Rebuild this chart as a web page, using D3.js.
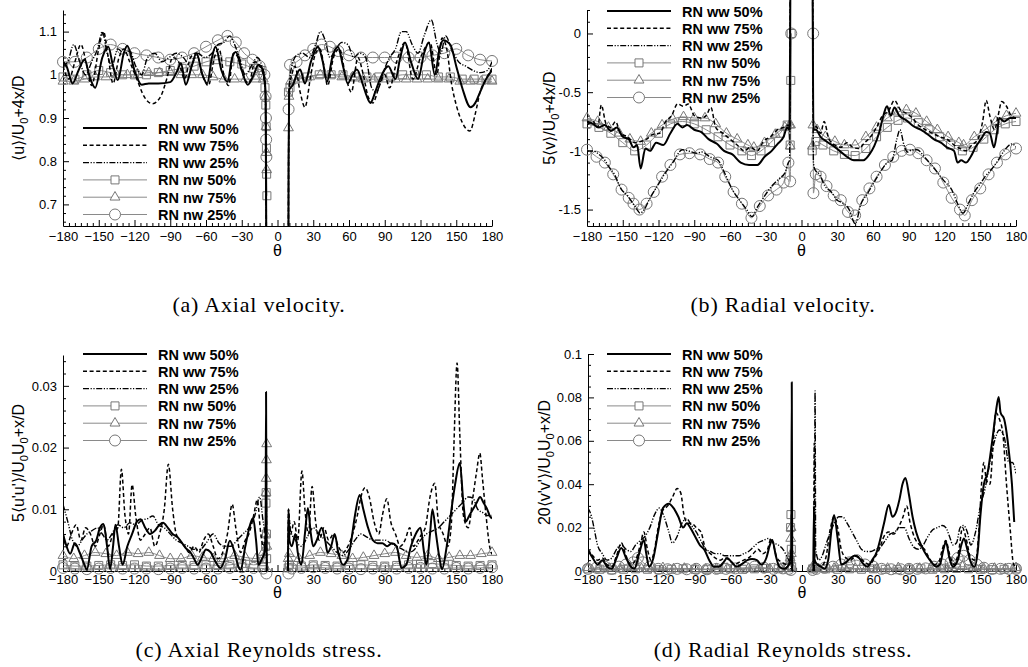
<!DOCTYPE html>
<html lang="en">
<head>
<meta charset="utf-8"/>
<title>RN ww / nw profiles</title>
<script src="https://d3js.org/d3.v7.min.js"></script>
<style>
  body{margin:0;background:#ffffff;}
  svg text{font-family:'Liberation Sans',Arial,Helvetica,sans-serif;fill:#000;}
  .tick text{font-size:13px;}
  .legend-label{font-size:14.5px;font-weight:bold;}
  .axis-title{font-size:16px;}
  svg text.caption{font-family:'Liberation Serif','Times New Roman',serif;font-size:22px;letter-spacing:0.8px;}
</style>
</head>
<body>
<svg id="chart" width="1028" height="667"></svg>
<script>
// ---- data (theta in degrees, value) ; null = gap around the rod ----
const thetaTicks = [-180, -150, -120, -90, -60, -30, 0, 30, 60, 90, 120, 150, 180];
const axialTicks = [0.7, 0.8, 0.9, 1, 1.1];
const radialTicks = [-1.5, -1, -0.5, 0];
const stressUTicks = [0, 0.01, 0.02, 0.03];
const stressVTicks = [0, 0.02, 0.04, 0.06, 0.08, 0.1];
const seriesNames = ['RN ww 50%', 'RN ww 75%', 'RN ww 25%', 'RN nw 50%', 'RN nw 75%', 'RN nw 25%'];
const captions = ['(a) Axial velocity.', '(b) Radial velocity.', '(c) Axial Reynolds stress.', '(d) Radial Reynolds stress.'];

// (a) axial velocity
const axialWw50 = [[-180,1.03],[-177,1.02],[-172,0.98],[-167,1.01],[-162,1.035],[-157,0.99],[-153,0.97],[-147,1.04],[-142,1.065],[-138,1.02],[-134,0.988],[-129,1.05],[-126,1.067],[-120,1.01],[-114,0.977],[-108,0.98],[-100,0.98],[-90,0.983],[-84,1.01],[-81,1.027],[-77,0.977],[-72,1.02],[-68,1.05],[-63,1.0],[-59,0.98],[-55,1.04],[-52,1.065],[-47,1.01],[-42,0.984],[-38,1.04],[-35,1.053],[-30,1.01],[-25,0.977],[-20,1.0],[-16,1.023],[-13,1.015],[-11,0.99],[-10,0.96],[-9.2,0.5],[-9,0.3],
  null,
  [9,0.3],[9.3,0.8],[9.8,0.965],[11,0.97],[13,0.977],[16,1.0],[19,1.012],[23,0.98],[28,1.03],[34,1.065],[38,1.03],[41.5,0.984],[46,1.04],[50.7,1.065],[55,1.02],[59,0.98],[63,1.0],[66.6,1.012],[71.7,0.977],[75,0.95],[78,0.935],[82,0.96],[86,0.99],[93,1.02],[99,0.99],[103,1.04],[107,1.075],[112,1.03],[118,0.99],[123,1.05],[127,1.075],[132,1.0],[136,1.06],[139,1.08],[145,1.07],[150,1.02],[155,0.97],[162,0.925],[166,0.935],[170,0.96],[175,0.99],[180,1.01]];
const axialWw75 = [[-180,1.02],[-175,0.99],[-170,1.03],[-165,1.07],[-160,1.02],[-156,0.975],[-150,1.06],[-146,1.1],[-142,1.04],[-138,0.98],[-133,1.04],[-129,1.06],[-124,1.03],[-118,0.99],[-112,0.95],[-105,0.933],[-98,0.95],[-93,0.99],[-88,1.04],[-83,1.03],[-78,0.99],[-73,1.04],[-68,1.05],[-63,1.0],[-58,0.975],[-53,1.04],[-49,1.06],[-45,1.0],[-41,0.975],[-37,1.05],[-33,1.04],[-29,1.0],[-24,0.98],[-19,1.03],[-15,1.02],[-12,1.0],[-10,0.95],[-9.2,0.5],[-9,0.3],
  null,
  [9,0.3],[9.3,0.8],[9.8,0.97],[12,1.0],[14.6,1.02],[19,0.96],[23,0.925],[28,1.0],[32,1.05],[35.6,1.06],[39,1.02],[42,0.975],[47,1.04],[52,1.06],[57,1.0],[62,0.96],[67.5,1.04],[72,1.0],[76,0.95],[80,0.935],[85,0.97],[90,1.0],[94,0.97],[100,1.03],[107,1.075],[113.6,0.99],[120,1.04],[128,1.075],[133.7,1.0],[138,1.085],[142,1.06],[146,0.98],[150,0.93],[155,0.89],[161.5,0.87],[166,0.91],[170,0.96],[175,0.99],[180,1.015]];
const axialWw25 = [[-180,1.02],[-176,1.03],[-171,1.07],[-166,1.03],[-161,1.0],[-156,1.03],[-151,1.06],[-147,1.1],[-143,1.05],[-139,1.02],[-134,1.06],[-129,1.05],[-124,1.055],[-119,1.02],[-114,1.0],[-109,1.04],[-103,1.05],[-97,1.03],[-91,1.04],[-85,1.05],[-79,1.04],[-73,1.02],[-67,1.05],[-61,1.04],[-55,1.05],[-50,1.07],[-45,1.075],[-40,1.09],[-36,1.07],[-32,1.04],[-27,1.0],[-22,1.02],[-17,1.04],[-13,1.02],[-10.5,0.99],[-9.2,0.5],[-9,0.3],
  null,
  [9,0.3],[9.3,0.8],[9.8,0.97],[12,1.02],[16,1.045],[21,1.05],[27,1.04],[32,1.07],[36,1.1],[40,1.08],[44,1.04],[49,1.06],[54,1.075],[59,1.07],[64,1.04],[69,1.05],[74,1.04],[79,0.97],[83,0.96],[88,1.0],[94,1.04],[99,1.06],[104,1.1],[108,1.1],[113,1.07],[118,1.05],[123,1.09],[129,1.127],[134,1.07],[137,1.05],[141,1.09],[146,1.06],[152,1.03],[158,1.02],[164,1.01],[170,1.005],[176,1.01],[180,1.03]];
const axialNw50 = [[-180,0.995],[-170,0.99],[-160,1.0],[-150,1.01],[-140,1.005],[-130,1.0],[-120,1.0],[-110,1.0],[-100,1.005],[-90,1.01],[-80,1.015],[-70,1.02],[-60,1.03],[-50,1.035],[-40,1.03],[-30,1.025],[-20,1.015],[-13,1.01],[-10.5,0.97],[-9.8,0.93],[-9.5,0.88],[-9.3,0.83],[-9.1,0.77],[-8.9,0.72],
  null,
  [9.2,0.96],[10.5,0.97],[15,0.99],[25,0.995],[35,1.0],[45,1.0],[55,1.0],[65,0.995],[75,0.995],[85,0.995],[95,0.995],[105,1.0],[115,1.0],[125,1.0],[135,0.995],[145,0.995],[155,0.99],[165,0.99],[175,0.99],[180,0.99]];
const axialNw75 = [[-180,0.985],[-171,0.985],[-162,0.99],[-153,0.995],[-144,0.995],[-135,1.0],[-126,1.0],[-117,1.0],[-108,1.005],[-99,1.005],[-90,1.005],[-81,1.0],[-72,1.0],[-63,1.0],[-54,0.995],[-45,0.99],[-36,0.99],[-27,0.99],[-18,0.99],[-12,0.99],[-10.2,0.95],[-9.6,0.88],[-9.3,0.82],[-9.1,0.78],
  null,
  [9.2,0.877],[9.6,0.95],[11,0.985],[18,0.99],[27,0.995],[36,1.0],[45,1.0],[54,0.995],[63,0.995],[72,0.99],[81,0.99],[90,0.99],[99,0.99],[108,0.99],[117,0.99],[126,0.99],[135,0.99],[144,0.99],[153,0.985],[162,0.985],[171,0.985],[180,0.985]];
const axialNw25 = [[-180,1.03],[-170,1.03],[-160,1.04],[-150,1.06],[-140,1.07],[-130,1.06],[-120,1.05],[-110,1.045],[-100,1.04],[-90,1.035],[-80,1.04],[-70,1.05],[-60,1.065],[-50,1.08],[-42,1.09],[-35,1.075],[-28,1.05],[-21,1.035],[-15,1.02],[-11,1.0],[-10,0.95],[-9.7,0.9],[-9.5,0.85],[-9.3,0.81],
  null,
  [9.3,0.92],[10.5,1.023],[16,1.03],[23,1.045],[30,1.06],[37,1.07],[44,1.065],[51,1.055],[60,1.045],[70,1.04],[80,1.04],[90,1.04],[100,1.04],[110,1.04],[120,1.04],[130,1.045],[140,1.05],[150,1.06],[160,1.045],[170,1.035],[180,1.032]];

// (b) radial velocity
const radialWw50 = [[-180,-0.75],[-175,-0.77],[-170,-0.8],[-165,-0.78],[-160,-0.83],[-155,-0.8],[-150,-0.88],[-145,-0.9],[-141,-0.97],[-138,-0.95],[-135,-1.15],[-131,-0.98],[-127,-1.0],[-122,-0.93],[-116,-0.95],[-110,-0.85],[-104,-0.77],[-100,-0.8],[-96,-0.78],[-90,-0.82],[-84,-0.84],[-78,-0.9],[-71,-0.94],[-65,-1.0],[-58,-1.03],[-51,-1.1],[-44,-1.12],[-37,-1.12],[-31,-1.05],[-25,-1.0],[-20,-0.94],[-15,-0.88],[-12,-0.8],[-10,-0.82],[-9.3,0.5],[-9,1],
  null,
  [9,1],[9.4,0.2],[10,-0.82],[12,-0.82],[16,-0.88],[21,-0.92],[27,-0.96],[32,-1.0],[38,-1.05],[44,-1.08],[52,-1.08],[57,-1.03],[61,-0.96],[65,-0.85],[69,-0.69],[71.7,-0.62],[75,-0.7],[78,-0.63],[82,-0.7],[88,-0.74],[94,-0.79],[100,-0.82],[106,-0.86],[111,-0.9],[117,-0.93],[122,-0.97],[128,-1.0],[131,-1.1],[134,-1.08],[138,-1.1],[142,-1.05],[146,-0.97],[150.6,-0.9],[155,-0.84],[158,-0.85],[161.5,-0.97],[164,-0.85],[166,-0.72],[170,-0.75],[175,-0.72],[180,-0.72]];
const radialWw75 = [[-180,-0.78],[-175,-0.75],[-171,-0.8],[-168,-0.61],[-164,-0.77],[-160,-0.8],[-156,-0.75],[-152,-0.85],[-146,-0.88],[-140,-0.93],[-135,-0.92],[-130,-0.9],[-125,-0.86],[-119,-0.85],[-114,-0.75],[-109,-0.7],[-104,-0.6],[-99,-0.62],[-95,-0.6],[-90,-0.7],[-84,-0.72],[-80,-0.7],[-76,-0.63],[-72,-0.8],[-66,-0.85],[-60,-0.9],[-54,-0.95],[-48,-1.0],[-43,-0.97],[-37,-1.0],[-32,-0.92],[-26,-0.88],[-20,-0.82],[-15,-0.8],[-11,-0.78],[-10,-0.8],[-9.3,0.5],[-9,1],
  null,
  [9,1],[9.4,0.2],[10,-0.78],[13,-0.8],[16,-0.85],[19,-0.75],[23,-0.9],[28,-0.95],[33,-0.97],[38,-0.93],[43,-0.97],[48,-0.98],[53,-0.93],[58,-0.88],[63,-0.8],[68,-0.7],[73,-0.66],[78,-0.57],[83,-0.65],[88,-0.68],[93,-0.72],[98,-0.78],[104,-0.82],[110,-0.85],[116,-0.88],[122,-0.9],[128,-0.95],[133,-0.98],[138,-1.0],[143,-0.95],[148,-0.9],[152,-0.75],[155,-0.57],[158,-0.7],[162,-0.82],[165,-0.7],[168,-0.58],[172,-0.62],[176,-0.7],[180,-0.72]];
const radialWw25 = [[-180,-1.0],[-175,-1.0],[-170,-1.03],[-165,-1.08],[-162,-1.13],[-157,-1.2],[-151,-1.33],[-146,-1.38],[-142,-1.44],[-138,-1.5],[-135.5,-1.53],[-132,-1.5],[-127,-1.4],[-121,-1.3],[-115,-1.2],[-108,-1.1],[-100,-0.99],[-95,-1.0],[-88,-1.02],[-83.5,-1.01],[-77,-1.05],[-70,-1.08],[-64,-1.2],[-58,-1.33],[-52,-1.42],[-46,-1.5],[-41.6,-1.56],[-37,-1.48],[-32,-1.4],[-25,-1.3],[-18,-1.23],[-14,-1.19],[-11,-1.1],[-10,-1.08],[-9.3,0.5],[-9,1],
  null,
  [9,1],[9.5,0.2],[10,-1.1],[11.3,-1.16],[15,-1.2],[19.7,-1.3],[25,-1.35],[30,-1.42],[34,-1.44],[40,-1.5],[45,-1.62],[50,-1.45],[55,-1.37],[59,-1.3],[65,-1.2],[72,-1.1],[76,-1.08],[80,-0.9],[82.6,-0.82],[86,-0.95],[89,-1.01],[93,-0.99],[97,-0.99],[103,-1.05],[109,-1.12],[114.5,-1.19],[120,-1.26],[126,-1.33],[131,-1.45],[135.5,-1.53],[140,-1.45],[145,-1.35],[150,-1.28],[154,-1.22],[160,-1.15],[165,-1.08],[170,-1.0],[176.7,-0.94],[180,-0.97]];
const radialNw50 = [[-180,-0.77],[-170,-0.8],[-160,-0.85],[-150,-0.93],[-140,-1.0],[-130,-0.95],[-120,-0.85],[-110,-0.77],[-100,-0.75],[-90,-0.77],[-80,-0.82],[-70,-0.88],[-60,-0.95],[-50,-1.0],[-42,-1.04],[-34,-1.0],[-26,-0.93],[-18,-0.85],[-12,-0.78],[-9.5,-0.95],[-9,-0.4],[-8.7,0],
  null,
  [9,-1.0],[12,-0.92],[18,-0.95],[27,-1.0],[36,-1.03],[45,-1.04],[54,-0.98],[63,-0.88],[72,-0.8],[81,-0.74],[89,-0.72],[98,-0.76],[107,-0.82],[116,-0.88],[125,-0.95],[135,-1.0],[144,-0.97],[153,-0.9],[162,-0.82],[171,-0.77],[180,-0.75]];
const radialNw75 = [[-180,-0.72],[-171,-0.75],[-162,-0.8],[-153,-0.85],[-144,-0.9],[-135,-0.92],[-126,-0.85],[-117,-0.78],[-108,-0.73],[-99,-0.71],[-90,-0.72],[-81,-0.72],[-72,-0.77],[-63,-0.85],[-54,-0.9],[-45,-0.95],[-40,-0.97],[-31,-0.93],[-22,-0.86],[-14,-0.8],[-10,-0.78],[-9.5,-0.96],[-9.2,-0.78],
  null,
  [9.2,-0.96],[9.6,-0.78],[13,-0.82],[20,-0.88],[28,-0.92],[36,-0.95],[45,-0.95],[54,-0.88],[63,-0.8],[72,-0.72],[81,-0.67],[88,-0.65],[96,-0.68],[105,-0.75],[114,-0.82],[123,-0.88],[132,-0.93],[136,-0.95],[145,-0.88],[154,-0.82],[163,-0.75],[172,-0.7],[180,-0.68]];
const radialNw25 = [[-180,-0.99],[-172,-1.05],[-165,-1.1],[-158,-1.2],[-151,-1.33],[-145,-1.4],[-141,-1.45],[-136,-1.5],[-130,-1.45],[-124,-1.35],[-117,-1.22],[-110,-1.12],[-102,-1.03],[-94,-1.02],[-85,-1.03],[-77,-1.07],[-70,-1.1],[-64,-1.22],[-57,-1.35],[-50,-1.45],[-42,-1.57],[-35,-1.47],[-28,-1.38],[-21,-1.33],[-15,-1.27],[-11,-1.1],[-9.5,-1.26],[-8.6,0],
  null,
  [9.8,0],[10,-1.36],[12,-1.2],[16,-1.22],[21,-1.3],[27,-1.38],[33,-1.42],[39,-1.52],[45,-1.55],[51,-1.42],[57,-1.32],[63,-1.22],[70,-1.12],[77,-1.05],[84,-1.0],[91,-0.99],[98,-1.02],[105,-1.08],[112,-1.15],[119,-1.27],[126,-1.4],[133,-1.5],[137,-1.55],[143,-1.42],[150,-1.32],[157,-1.2],[164,-1.1],[171,-1.03],[180,-0.98]];

// (c) axial Reynolds stress
const stressUWw50 = [[-180,0.006],[-177,0.004],[-174,0.0028],[-170,0.0045],[-166,0.003],[-162,0.001],[-160,0.0002],[-156,0.004],[-152,0.005],[-149,0.007],[-146,0.0076],[-143,0.004],[-140.5,0.0003],[-138,0.004],[-136,0.0075],[-133,0.004],[-130,0.001],[-126,0.004],[-122,0.006],[-118,0.008],[-115,0.0084],[-111,0.007],[-107,0.006],[-103,0.0065],[-99,0.0075],[-96,0.0078],[-92,0.007],[-88,0.006],[-84,0.0055],[-80,0.0045],[-77,0.0037],[-73,0.003],[-70,0.002],[-67,0.001],[-64,0.002],[-60,0.0035],[-56,0.003],[-52,0.0015],[-48,0.0005],[-44,0.002],[-40,0.0049],[-36,0.003],[-33,0.0008],[-31,0.0002],[-27,0.004],[-23,0.0075],[-20.5,0.0086],[-18,0.005],[-16,0.001],[-13,0.002],[-11,0.003],[-10,0.006],[-9.6,0.029],[-9.2,0.004],[-9,0.0],
  null,
  [8.8,0.0],[9.2,0.01],[10,0.005],[12,0.004],[15,0.006],[17,0.003],[20,0.001],[23,0.006],[25.5,0.0102],[28,0.006],[30,0.004],[33,0.005],[37,0.007],[40,0.005],[42,0.003],[45,0.004],[48,0.006],[51,0.003],[55,0.001],[59,0.002],[62,0.005],[65,0.009],[69,0.0123],[72,0.01],[76,0.007],[80,0.005],[84,0.0045],[88,0.0045],[92,0.004],[96,0.0045],[100,0.004],[104,0.0005],[108,0.001],[112,0.004],[116,0.006],[120,0.007],[123,0.003],[125,0.001],[128,0.006],[130,0.01],[133,0.006],[136,0.002],[138,0.0003],[142,0.004],[146,0.01],[149,0.014],[153,0.0175],[156,0.011],[158,0.008],[161,0.009],[164,0.01],[167,0.011],[170,0.012],[173,0.011],[176,0.01],[178,0.009],[180,0.0085]];
const stressUWw75 = [[-180,0.006],[-177,0.004],[-173,0.006],[-169,0.0075],[-165,0.005],[-161,0.007],[-157,0.006],[-153,0.004],[-149,0.006],[-146,0.0075],[-142,0.004],[-138,0.006],[-134,0.007],[-131,0.0165],[-128,0.009],[-125,0.006],[-122,0.014],[-119,0.009],[-115,0.005],[-111,0.006],[-107,0.007],[-103,0.004],[-99,0.006],[-95,0.01],[-91.6,0.0173],[-88,0.01],[-85,0.006],[-82,0.005],[-78,0.004],[-74,0.003],[-70,0.004],[-66,0.003],[-62,0.005],[-58,0.006],[-54,0.004],[-50,0.002],[-46,0.003],[-42,0.006],[-38,0.0108],[-35,0.007],[-31,0.003],[-27,0.005],[-24,0.006],[-20,0.009],[-17,0.0115],[-14,0.006],[-12,0.004],[-10,0.006],[-9.5,0.02],[-9.2,0.005],[-9,0.0],
  null,
  [8.8,0.0],[9.2,0.01],[11,0.006],[14,0.008],[17,0.005],[20.5,0.0162],[23,0.01],[26,0.006],[29,0.0137],[32,0.008],[35,0.005],[39,0.007],[43,0.005],[47,0.006],[51,0.004],[55,0.003],[59,0.004],[63,0.006],[67,0.009],[70,0.012],[73.4,0.0135],[77,0.012],[81,0.008],[85,0.006],[88,0.009],[91.8,0.0117],[95,0.008],[99,0.006],[103,0.004],[107,0.005],[111,0.007],[114,0.004],[118,0.005],[121,0.006],[124,0.007],[128,0.012],[132,0.0142],[135,0.008],[139,0.006],[143,0.004],[146,0.008],[148,0.02],[150.7,0.0337],[153,0.022],[156,0.009],[160,0.007],[164,0.012],[167,0.016],[169.8,0.0191],[172,0.015],[175,0.009],[178,0.004],[180,0.0027]];
const stressUWw25 = [[-180,0.0108],[-176,0.008],[-172,0.005],[-168,0.004],[-164,0.005],[-160,0.006],[-156,0.0065],[-151,0.007],[-147,0.006],[-143,0.005],[-139,0.006],[-134,0.0075],[-129,0.007],[-124,0.0078],[-119,0.0075],[-114,0.0082],[-109,0.0085],[-104.5,0.0089],[-100,0.0075],[-95,0.007],[-90,0.006],[-85,0.005],[-80,0.0045],[-75,0.004],[-70,0.0035],[-65,0.0035],[-60,0.0045],[-54,0.006],[-49,0.0045],[-44,0.004],[-39,0.004],[-34,0.005],[-29,0.006],[-24,0.007],[-19,0.009],[-15,0.012],[-12,0.008],[-10,0.006],[-9.4,0.012],[-9.1,0.004],[-9,0.0],
  null,
  [8.8,0.0],[9.2,0.009],[11,0.0065],[15,0.005],[20,0.004],[25,0.0055],[30,0.007],[35,0.006],[40,0.005],[45,0.004],[50,0.003],[55,0.0025],[60,0.0035],[65,0.005],[70,0.006],[75,0.0055],[80,0.005],[85,0.005],[90,0.005],[95,0.0045],[100,0.004],[105,0.0035],[110,0.003],[115,0.0035],[120,0.005],[125,0.006],[130,0.0065],[135,0.007],[140,0.008],[145,0.009],[150,0.01],[155,0.011],[160,0.012],[164,0.0118],[168,0.01],[172,0.0095],[176,0.009],[180,0.009]];
const stressUNw50 = [[-180,0.001],[-170,0.0008],[-160,0.0008],[-150,0.0009],[-140,0.001],[-130,0.0009],[-120,0.001],[-110,0.0008],[-100,0.0008],[-90,0.0009],[-80,0.001],[-70,0.0009],[-60,0.001],[-50,0.0009],[-40,0.001],[-30,0.0012],[-20,0.001],[-12,0.0015],[-10,0.004],[-9.7,0.011],[-9.5,0.0127],[-9.3,0.006],[-9.1,0.002],
  null,
  [9,0.0005],[10,0.001],[20,0.0008],[30,0.001],[40,0.0009],[50,0.0008],[60,0.0009],[70,0.001],[80,0.0009],[90,0.0008],[100,0.0009],[110,0.001],[120,0.0011],[130,0.0012],[140,0.001],[150,0.0009],[160,0.0008],[170,0.0009],[180,0.001]];
const stressUNw75 = [[-180,0.0025],[-171,0.002],[-162,0.0025],[-153,0.003],[-144,0.0028],[-135,0.0025],[-126,0.003],[-117,0.0028],[-108,0.003],[-99,0.0025],[-90,0.002],[-81,0.002],[-72,0.0025],[-63,0.0022],[-54,0.002],[-45,0.002],[-36,0.0025],[-27,0.0022],[-18,0.002],[-12,0.003],[-10,0.006],[-9.7,0.0127],[-9.5,0.015],[-9.3,0.018],[-9.1,0.0206],[-9,0.004],
  null,
  [9,0.002],[10,0.0028],[18,0.002],[27,0.0025],[36,0.003],[45,0.0028],[54,0.0025],[63,0.002],[72,0.0022],[81,0.0025],[90,0.0028],[99,0.003],[108,0.0025],[117,0.0022],[126,0.0025],[135,0.002],[144,0.0022],[153,0.0025],[162,0.0025],[171,0.0028],[180,0.003]];
const stressUNw25 = [[-180,0.0005],[-170,0.0004],[-160,0.0003],[-150,0.0004],[-140,0.0005],[-130,0.0004],[-120,0.0004],[-110,0.0004],[-100,0.0003],[-90,0.0004],[-80,0.0005],[-70,0.0004],[-60,0.0004],[-50,0.0004],[-40,0.0005],[-30,0.0006],[-20,0.0005],[-12,0.0004],[-9.3,-0.0004],
  null,
  [9.2,-0.0004],[12,0.0004],[20,0.0005],[30,0.0006],[40,0.0005],[50,0.0004],[60,0.0004],[70,0.0003],[80,0.0004],[90,0.0004],[100,0.0004],[110,0.0005],[120,0.0005],[130,0.0004],[140,0.0004],[150,0.0005],[160,0.0004],[170,0.0005],[180,0.0006]];

// (d) radial Reynolds stress
const stressVWw50 = [[-180,0.0097],[-176,0.006],[-172,0.003],[-168,0.005],[-164,0.002],[-160,0.001],[-156,0.006],[-152,0.0106],[-148,0.006],[-144,0.002],[-141,0.001],[-137,0.008],[-133,0.0143],[-131,0.008],[-128.7,0.002],[-125,0.006],[-121,0.018],[-117,0.029],[-112,0.031],[-108,0.029],[-104,0.025],[-100,0.02],[-97,0.022],[-94,0.02],[-90,0.016],[-86,0.012],[-82,0.0097],[-78,0.005],[-74,0.002],[-70,0.002],[-66,0.004],[-63,0.006],[-59,0.004],[-55,0.002],[-51,0.003],[-46,0.005],[-42,0.0055],[-38,0.005],[-34,0.003],[-30,0.006],[-27,0.012],[-25,0.0143],[-22,0.007],[-19,0.002],[-15,0.001],[-11,0.003],[-9,0.01],[-8.6,0.087],[-8.2,0.002],[-8,0.0],
  null,
  [9.5,0.0],[10,0.03],[10.5,0.005],[13,0.003],[16,0.002],[19,0.001],[22,0.005],[25,0.02],[27,0.0258],[30,0.015],[33,0.003],[37,0.004],[41,0.006],[44,0.007],[48,0.006],[52,0.003],[55,0.002],[59,0.005],[63,0.009],[66,0.015],[69,0.022],[73,0.0304],[76,0.025],[79,0.027],[82,0.033],[84.5,0.04],[87,0.0429],[90,0.035],[93,0.025],[96,0.018],[101,0.011],[105,0.007],[109,0.004],[113,0.002],[116,0.003],[119,0.01],[121,0.0135],[124,0.006],[127,0.002],[131,0.005],[134,0.012],[136.2,0.015],[139,0.01],[142,0.004],[145,0.002],[148,0.01],[150,0.025],[153,0.04],[156,0.045],[160,0.06],[163,0.073],[165.4,0.0802],[167,0.073],[170,0.07],[173,0.06],[176.6,0.04],[178.5,0.0226]];
const stressVWw75 = [[-180,0.01],[-176,0.007],[-172,0.005],[-168,0.006],[-164,0.003],[-160,0.002],[-156,0.007],[-152,0.013],[-148,0.007],[-144,0.003],[-140,0.005],[-136,0.012],[-133,0.018],[-130,0.01],[-127,0.005],[-124,0.01],[-121,0.02],[-117,0.028],[-113,0.03],[-109,0.034],[-105,0.038],[-102,0.036],[-99,0.025],[-96,0.022],[-93,0.022],[-89,0.02],[-85,0.018],[-81,0.01],[-77,0.008],[-73,0.006],[-69,0.005],[-65,0.006],[-61,0.005],[-57,0.003],[-53,0.004],[-49,0.005],[-45,0.006],[-41,0.008],[-37,0.01],[-33,0.008],[-29,0.01],[-26,0.015],[-24,0.012],[-21,0.006],[-17,0.004],[-13,0.003],[-10,0.003],[-9,0.01],[-8.5,0.004],[-8,0.0],
  null,
  [9.8,0.0],[10.3,0.059],[10.8,0.004],[13,0.003],[16,0.002],[20,0.006],[24,0.02],[27,0.025],[30,0.02],[33,0.01],[37,0.006],[41,0.005],[45,0.007],[49,0.006],[53,0.004],[57,0.003],[61,0.006],[65,0.01],[69,0.016],[73,0.018],[77,0.017],[81,0.02],[85,0.025],[88,0.03],[91,0.022],[95,0.015],[99,0.012],[103,0.01],[107,0.006],[111,0.003],[115,0.004],[118,0.01],[121,0.014],[124,0.008],[128,0.003],[132,0.01],[135,0.02],[138,0.015],[142,0.006],[146,0.005],[149,0.02],[151,0.04],[153,0.05],[155,0.042],[158,0.04],[161,0.06],[163,0.073],[166,0.07],[169,0.063],[172,0.04],[175,0.02],[178,0.003],[180,0.002]];
const stressVWw25 = [[-180,0.029],[-177,0.025],[-175,0.02],[-172,0.012],[-168,0.008],[-164,0.005],[-160,0.006],[-156,0.01],[-152,0.012],[-148,0.01],[-144,0.009],[-140,0.012],[-136,0.014],[-132,0.016],[-128,0.02],[-124,0.026],[-120,0.029],[-116,0.025],[-112,0.018],[-109,0.0129],[-105,0.016],[-101,0.022],[-97,0.024],[-93,0.021],[-89,0.018],[-85,0.014],[-81,0.01],[-77,0.009],[-73,0.008],[-69,0.008],[-65,0.007],[-61,0.007],[-57,0.007],[-53,0.007],[-49,0.008],[-45,0.009],[-41,0.011],[-37,0.013],[-33,0.014],[-28,0.015],[-24,0.013],[-20,0.012],[-16,0.01],[-12,0.006],[-10,0.004],[-9,0.008],[-8.5,0.002],[-8,0.0],
  null,
  [10.5,0.0],[11,0.083],[11.5,0.01],[14,0.005],[17,0.007],[20,0.012],[24,0.018],[28,0.023],[31,0.025],[34,0.025],[38,0.022],[42,0.018],[46,0.014],[50,0.01],[54,0.009],[58,0.009],[62,0.01],[66,0.011],[70,0.014],[74,0.017],[78,0.018],[82,0.02],[86,0.02],[90,0.015],[94,0.011],[98,0.01],[102,0.012],[106,0.016],[110,0.019],[114,0.02],[118,0.021],[121,0.02],[124,0.016],[127,0.012],[130,0.013],[133,0.02],[136,0.021],[139,0.018],[142,0.012],[146,0.018],[150,0.03],[154,0.038],[158,0.05],[162,0.06],[166,0.065],[170,0.062],[174,0.05],[177,0.05],[180,0.045]];
const stressVNw50 = [[-180,0.001],[-170,0.0008],[-160,0.0005],[-150,0.0008],[-140,0.001],[-130,0.0008],[-120,0.0006],[-110,0.0008],[-100,0.001],[-90,0.0008],[-80,0.0006],[-70,0.0008],[-60,0.001],[-50,0.0008],[-40,0.001],[-30,0.0012],[-20,0.001],[-12,0.0015],[-10,0.005],[-9.6,0.02],[-9.3,0.026],[-9,0.01],[-8.7,0.002],
  null,
  [9,0.001],[11,0.0015],[20,0.001],[30,0.0008],[40,0.001],[50,0.0008],[60,0.001],[70,0.0008],[80,0.0006],[90,0.0008],[100,0.001],[110,0.0008],[120,0.001],[130,0.0012],[140,0.001],[150,0.0008],[160,0.0006],[170,0.0008],[180,0.001]];
const stressVNw75 = [[-180,0.0015],[-171,0.001],[-162,0.0012],[-153,0.001],[-144,0.0015],[-135,0.001],[-126,0.0012],[-117,0.0015],[-108,0.001],[-99,0.0012],[-90,0.001],[-81,0.0008],[-72,0.001],[-63,0.0012],[-54,0.001],[-45,0.0012],[-36,0.0015],[-27,0.001],[-18,0.0012],[-12,0.002],[-10,0.006],[-9.5,0.015],[-9.2,0.02],[-9,0.008],
  null,
  [9,0.002],[10,0.0015],[18,0.001],[27,0.0012],[36,0.0015],[45,0.001],[54,0.0012],[63,0.001],[72,0.0012],[81,0.0015],[90,0.001],[99,0.0012],[108,0.001],[117,0.0012],[126,0.0015],[135,0.002],[144,0.0015],[153,0.001],[162,0.0012],[171,0.001],[180,0.0015]];
const stressVNw25 = [[-180,0.001],[-173,0.0015],[-166,0.002],[-160,0.001],[-154,0.002],[-148,0.003],[-142,0.004],[-138,0.006],[-134,0.004],[-128,0.002],[-121,0.001],[-113,0.0008],[-105,0.001],[-97,0.0008],[-89,0.001],[-80,0.0008],[-72,0.001],[-64,0.001],[-56,0.0012],[-48,0.0015],[-40,0.002],[-32,0.0015],[-24,0.001],[-16,0.0012],[-11,0.001],[-9.3,0.0005],
  null,
  [9,0.0005],[12,0.001],[19,0.0015],[26,0.002],[33,0.003],[40,0.004],[46,0.005],[53,0.003],[60,0.002],[67,0.001],[75,0.0008],[83,0.0008],[90,0.001],[97,0.001],[104,0.0012],[111,0.002],[118,0.003],[125,0.004],[131,0.006],[136,0.007],[141,0.005],[147,0.003],[153,0.0015],[160,0.001],[167,0.001],[174,0.001],[180,0.001]];

// ---- styles of the six series ----
const styles = [
  {stroke: '#000', width: 2,   dash: null},
  {stroke: '#000', width: 1.5, dash: '4,2.6'},
  {stroke: '#000', width: 1.4, dash: '6,1.6,1.2,1.6,1.2,1.6'},
  {stroke: '#8a8a8a', width: 1, dash: null, symbol: d3.symbolSquare,   size: 64},
  {stroke: '#8a8a8a', width: 1, dash: null, symbol: d3.symbolTriangle, size: 42},
  {stroke: '#8a8a8a', width: 1, dash: null, symbol: d3.symbolCircle,   size: 95}
];

const panels = [
  {key: 'a', left: 63,  right: 492,  top: 10,  bottom: 226, clipTop: 0, domain: [0.65, 1.15], ticks: axialTicks, minor: 0.02,
   series: [axialWw50, axialWw75, axialWw25, axialNw50, axialNw75, axialNw25],
   yLabel: [['⟨u⟩/U', 0], ['0', 1], ['+4x/D', 0]], yLabelX: 24, legendX: 83, legendY: 128,
   caption: captions[0], captionX: 259, captionY: 312, thetaY: 256, pad: 5},
  {key: 'b', left: 587, right: 1016, top: 10,  bottom: 226, clipTop: 0, domain: [-1.64, 0.2], ticks: radialTicks, minor: 0.1,
   series: [radialWw50, radialWw75, radialWw25, radialNw50, radialNw75, radialNw25],
   yLabel: [['5⟨v⟩/U', 0], ['0', 1], ['+4x/D', 0]], yLabelX: 555, legendX: 607, legendY: 11,
   caption: captions[1], captionX: 783, captionY: 312, thetaY: 256, pad: 5},
  {key: 'c', left: 63,  right: 492,  top: 355, bottom: 571, clipTop: 340, domain: [0, 0.035], ticks: stressUTicks, minor: 0.002,
   series: [stressUWw50, stressUWw75, stressUWw25, stressUNw50, stressUNw75, stressUNw25],
   yLabel: [["5⟨u'u'⟩/U", 0], ['0', 1], ['U', 0], ['0', 1], ['+x/D', 0]], yLabelX: 24, legendX: 83, legendY: 354,
   caption: captions[2], captionX: 259, captionY: 657, thetaY: 598, pad: 3},
  {key: 'd', left: 588, right: 1016, top: 354, bottom: 571, clipTop: 340, domain: [0, 0.1], ticks: stressVTicks, minor: 0.005,
   series: [stressVWw50, stressVWw75, stressVWw25, stressVNw50, stressVNw75, stressVNw25],
   yLabel: [["20⟨v'v'⟩/U", 0], ['0', 1], ['U', 0], ['0', 1], ['+x/D', 0]], yLabelX: 550, legendX: 607, legendY: 354,
   caption: captions[3], captionX: 783, captionY: 657, thetaY: 598, pad: 3}
];

const svg = d3.select('#chart');
const defs = svg.append('defs');

panels.forEach(drawPanel);

function drawPanel(p) {
  const g = svg.append('g').attr('class', 'panel-' + p.key);
  const x = d3.scaleLinear().domain([-180, 180]).range([p.left, p.right]);
  const y = d3.scaleLinear().domain(p.domain).range([p.bottom, p.top]);

  defs.append('clipPath').attr('id', 'clip-' + p.key)
    .append('rect')
    .attr('x', p.left).attr('y', p.clipTop)
    .attr('width', p.right - p.left).attr('height', p.bottom - p.clipTop);

  // minor ticks (inward)
  const minorX = d3.range(-180, 181, 5).filter(t => t % 30 !== 0);
  const minorY = d3.range(Math.ceil(p.domain[0] / p.minor - 1e-6) * p.minor, p.domain[1] + 1e-9, p.minor)
    .filter(v => !p.ticks.some(t => Math.abs(t - v) < p.minor / 10));

  g.append('g').attr('transform', `translate(0,${p.bottom})`)
    .call(d3.axisBottom(x).tickValues(minorX).tickSize(-3).tickFormat(''))
    .call(a => a.select('.domain').remove());
  g.append('g').attr('transform', `translate(${p.left},0)`)
    .call(d3.axisLeft(y).tickValues(minorY).tickSize(-3).tickFormat(''))
    .call(a => a.select('.domain').remove());

  // major axes
  const xAxis = g.append('g').attr('transform', `translate(0,${p.bottom})`)
    .call(d3.axisBottom(x).tickValues(thetaTicks).tickSize(-6).tickSizeOuter(0).tickPadding(p.pad));
  const yAxis = g.append('g').attr('transform', `translate(${p.left},0)`)
    .call(d3.axisLeft(y).tickValues(p.ticks).tickSize(-6).tickSizeOuter(0).tickPadding(6).tickFormat(d => String(d)));
  [xAxis, yAxis].forEach(a => {
    a.attr('font-family', null).attr('font-size', null);
    a.selectAll('line, path').attr('stroke', '#000').attr('stroke-width', 1);
  });
  xAxis.selectAll('text').attr('dy', '0.78em');

  // series lines
  const line = d3.line()
    .defined(d => d !== null)
    .x(d => x(d[0]))
    .y(d => y(d[1]))
    .curve(d3.curveMonotoneX);

  const order = [3, 4, 5, 2, 1, 0];
  order.forEach(i => {
    const s = styles[i];
    g.append('path')
      .datum(p.series[i])
      .attr('clip-path', `url(#clip-${p.key})`)
      .attr('fill', 'none')
      .attr('stroke', s.stroke)
      .attr('stroke-width', s.width)
      .attr('stroke-dasharray', s.dash)
      .attr('stroke-linejoin', 'round')
      .attr('d', line);
    if (s.symbol) {
      g.selectAll('.mk-' + i)
        .data(p.series[i].filter(d => d !== null))
        .join('path')
        .attr('class', 'mk-' + i)
        .attr('transform', d => `translate(${x(d[0])},${y(d[1])})`)
        .attr('d', d3.symbol().type(s.symbol).size(s.size))
        .attr('fill', 'none')
        .attr('stroke', '#777')
        .attr('stroke-width', 1);
    }
  });

  // legend
  const lg = g.append('g').attr('transform', `translate(${p.legendX},${p.legendY})`);
  seriesNames.forEach((name, i) => {
    const s = styles[i];
    const row = lg.append('g').attr('transform', `translate(0,${i * 17.3})`);
    row.append('line')
      .attr('x1', 0).attr('x2', 64).attr('y1', 0).attr('y2', 0)
      .attr('stroke', s.stroke).attr('stroke-width', s.width)
      .attr('stroke-dasharray', s.dash);
    if (s.symbol) {
      row.append('path')
        .attr('transform', 'translate(32,0)')
        .attr('d', d3.symbol().type(s.symbol).size(s.size))
        .attr('fill', '#fff').attr('stroke', '#777');
    }
    row.append('text')
      .attr('class', 'legend-label')
      .attr('x', 75).attr('y', 5.5)
      .text(name);
  });

  // axis titles
  g.append('text')
    .attr('class', 'axis-title')
    .attr('x', (p.left + p.right) / 2)
    .attr('y', p.thetaY)
    .attr('text-anchor', 'middle')
    .text('θ');

  const yl = g.append('text')
    .attr('class', 'axis-title')
    .attr('transform', `translate(${p.yLabelX},${(p.top + p.bottom) / 2}) rotate(-90)`)
    .attr('text-anchor', 'middle');
  let shifted = false;
  p.yLabel.forEach(([txt, sub]) => {
    const t = yl.append('tspan').text(txt);
    if (sub) { t.attr('dy', 4).attr('font-size', 11); shifted = true; }
    else if (shifted) { t.attr('dy', -4); shifted = false; }
  });

  // caption
  svg.append('text')
    .attr('class', 'caption')
    .attr('x', p.captionX)
    .attr('y', p.captionY)
    .attr('text-anchor', 'middle')
    .text(p.caption);
}
</script>
</body>
</html>
